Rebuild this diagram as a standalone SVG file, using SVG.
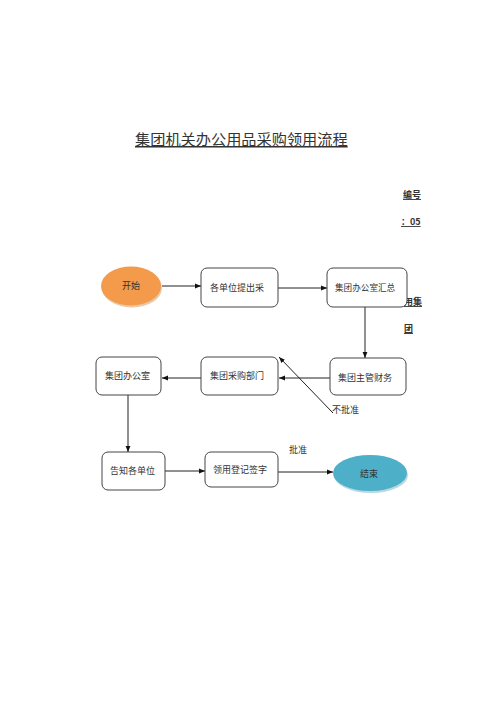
<svg xmlns="http://www.w3.org/2000/svg" width="500" height="707" viewBox="0 0 500 707">
<defs>
<style>
.t{font-family:"Noto Sans CJK SC","Liberation Serif",serif;fill:#333;}
.box{fill:#fff;stroke:#444;stroke-width:1;}
.ln{stroke:#222;stroke-width:1;fill:none;}
</style>
<marker id="ah" viewBox="0 0 10 10" refX="10" refY="5" markerWidth="6" markerHeight="6" orient="auto" markerUnits="userSpaceOnUse">
<path d="M0,1 L10,5 L0,9 Z" fill="#111"/>
</marker>
</defs>
<rect width="500" height="707" fill="#fff"/>
<text class="t" x="135" y="145" font-size="15.2" text-decoration="underline">集团机关办公用品采购领用流程</text>
<text class="t" x="403" y="198" font-size="9" font-weight="bold" text-decoration="underline">编号</text>
<text class="t" x="401" y="225" font-size="9" font-weight="bold" text-decoration="underline">：05</text>
<text class="t" x="404" y="305" font-size="9" font-weight="bold" text-decoration="underline">用集</text>
<text class="t" x="404" y="332" font-size="9" font-weight="bold" text-decoration="underline">团</text>

<g id="connectors">
<line class="ln" x1="162" y1="286" x2="201" y2="286" marker-end="url(#ah)"/>
<line class="ln" x1="278" y1="288" x2="327" y2="288" marker-end="url(#ah)"/>
<line class="ln" x1="365" y1="307" x2="365" y2="358" marker-end="url(#ah)"/>
<line class="ln" x1="330" y1="378" x2="279" y2="378" marker-end="url(#ah)"/>
<line class="ln" x1="201" y1="378" x2="162" y2="378" marker-end="url(#ah)"/>
<line class="ln" x1="333" y1="413" x2="279" y2="357" marker-end="url(#ah)"/>
<line class="ln" x1="128" y1="395" x2="128" y2="452" marker-end="url(#ah)"/>
<line class="ln" x1="165" y1="471" x2="205" y2="471" marker-end="url(#ah)"/>
<line class="ln" x1="278" y1="472" x2="333" y2="472" marker-end="url(#ah)"/>
<text class="t" x="332" y="413" font-size="9">不批准</text>
<text class="t" x="289" y="453" font-size="9">批准</text>
</g>

<g id="start">
<ellipse cx="132" cy="288" rx="30" ry="19.5" fill="#e8c9a8"/>
<ellipse cx="131" cy="286" rx="30" ry="19.5" fill="#f39a4b"/>
<text class="t" x="131" y="289" font-size="9" text-anchor="middle">开始</text>
</g>
<g id="n1">
<rect class="box" x="201" y="268" width="77" height="39" rx="6"/>
<text class="t" x="210" y="291" font-size="9">各单位提出采</text>
</g>
<g id="n2">
<rect class="box" x="327" y="268" width="80" height="39" rx="6"/>
<text class="t" x="335" y="291" font-size="8.6">集团办公室汇总</text>
</g>
<g id="n3">
<rect class="box" x="330" y="358" width="76" height="37" rx="6"/>
<text class="t" x="338" y="381" font-size="9">集团主管财务</text>
</g>
<g id="n4">
<rect class="box" x="201" y="357" width="77" height="38" rx="6"/>
<text class="t" x="210" y="379" font-size="9">集团采购部门</text>
</g>
<g id="n5">
<rect class="box" x="96" y="357" width="65" height="38" rx="6"/>
<text class="t" x="105" y="379" font-size="9">集团办公室</text>
</g>
<g id="n6">
<rect class="box" x="102" y="452" width="63" height="38" rx="6"/>
<text class="t" x="110" y="474" font-size="9">告知各单位</text>
</g>
<g id="n7">
<rect class="box" x="205" y="452" width="73" height="35" rx="6"/>
<text class="t" x="213" y="473" font-size="9">领用登记签字</text>
</g>
<g id="end">
<ellipse cx="371" cy="475" rx="37" ry="18" fill="#b9d8e2"/>
<ellipse cx="370" cy="473" rx="37" ry="18" fill="#4dafc8"/>
<text class="t" x="369" y="477" font-size="9" text-anchor="middle">结束</text>
</g>
</svg>
